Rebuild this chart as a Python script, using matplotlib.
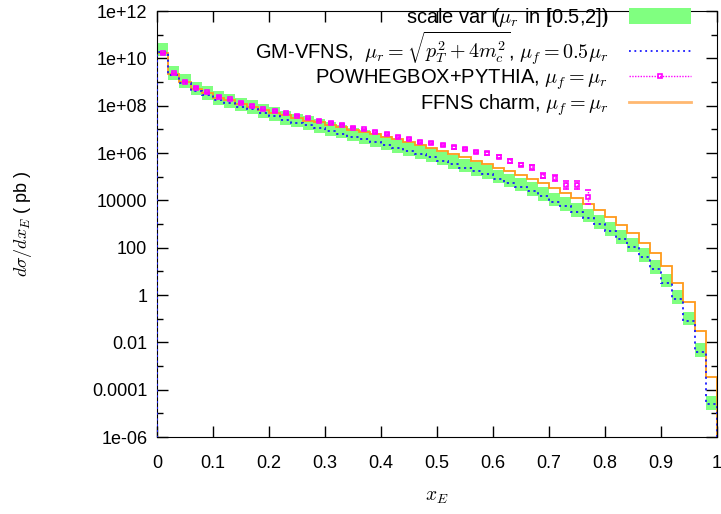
import numpy as np
import matplotlib
matplotlib.use('Agg')
from matplotlib import pyplot as plt
from matplotlib.patches import Patch
from matplotlib.lines import Line2D
from matplotlib.ticker import FixedLocator, NullFormatter

# Bin edges in x_E (50 bins of 0.02).
edges = np.linspace(0.0, 1.0, 51)

# GM-VFNS central values, log10(dsigma/dx_E [pb]).
gm_vfns_log = [10.25, 9.30, 8.95, 8.63, 8.45, 8.24, 8.10, 7.96, 7.85, 7.68,
               7.56, 7.40, 7.28, 7.17, 7.04, 6.91, 6.82, 6.69, 6.58, 6.45,
               6.34, 6.20, 6.08, 5.96, 5.82, 5.68, 5.54, 5.38, 5.23, 5.10,
               4.92, 4.75, 4.58, 4.40, 4.18, 3.94, 3.76, 3.51, 3.27, 2.99,
               2.71, 2.35, 2.02, 1.59, 1.10, 0.52, -0.18, -1.08, -2.41, -4.62]

# Scale variation band, upper and lower edges (log10).
band_hi_log = [10.65, 9.68, 9.33, 9.01, 8.83, 8.62, 8.48, 8.34, 8.23, 8.06,
               7.94, 7.78, 7.66, 7.55, 7.42, 7.29, 7.20, 7.07, 6.96, 6.83,
               6.72, 6.58, 6.46, 6.34, 6.20, 6.06, 5.92, 5.76, 5.61, 5.48,
               5.30, 5.13, 4.96, 4.78, 4.56, 4.32, 4.14, 3.89, 3.65, 3.37,
               3.09, 2.73, 2.40, 1.97, 1.48, 0.90, 0.20, -0.70, -2.03, -4.27]
band_lo_log = [10.10, 9.10, 8.75, 8.43, 8.25, 8.04, 7.90, 7.76, 7.65, 7.48,
               7.36, 7.20, 7.08, 6.97, 6.84, 6.71, 6.62, 6.49, 6.38, 6.25,
               6.14, 6.00, 5.88, 5.76, 5.62, 5.48, 5.34, 5.18, 5.03, 4.90,
               4.72, 4.55, 4.38, 4.20, 3.98, 3.74, 3.56, 3.31, 3.07, 2.79,
               2.51, 2.15, 1.82, 1.39, 0.90, 0.32, -0.38, -1.28, -2.61, -4.86]

# FFNS charm (log10).
ffns_log = [10.22, 9.35, 8.99, 8.72, 8.52, 8.34, 8.22, 8.08, 7.94, 7.81,
            7.71, 7.61, 7.49, 7.37, 7.30, 7.18, 7.09, 6.97, 6.87, 6.79,
            6.69, 6.58, 6.45, 6.33, 6.21, 6.09, 5.95, 5.83, 5.68, 5.55,
            5.38, 5.24, 5.07, 4.90, 4.72, 4.52, 4.31, 4.09, 3.83, 3.58,
            3.28, 2.97, 2.61, 2.21, 1.76, 1.23, 0.52, -0.31, -1.52, -3.45]

# POWHEGBOX+PYTHIA points at bin centres (log10) and their errors (decades).
powheg_log = [10.21, 9.37, 9.01, 8.76, 8.56, 8.38, 8.27, 8.13, 7.99, 7.85,
              7.78, 7.68, 7.58, 7.47, 7.37, 7.27, 7.20, 7.07, 7.00, 6.89,
              6.79, 6.68, 6.60, 6.47, 6.42, 6.34, 6.24, 6.18, 6.04, 5.98,
              5.84, 5.66, 5.51, 5.39, 5.04, 4.94, 4.63, 4.66, 4.13]
powheg_err = [0.03, 0.03, 0.03, 0.03, 0.03, 0.03, 0.03, 0.03, 0.03, 0.03,
              0.03, 0.03, 0.03, 0.03, 0.03, 0.03, 0.03, 0.03, 0.03, 0.04,
              0.04, 0.04, 0.04, 0.04, 0.04, 0.05, 0.05, 0.05, 0.05, 0.06,
              0.06, 0.07, 0.08, 0.09, 0.10, 0.12, 0.17, 0.17, 0.30]

y_ticks = [1e12, 1e10, 1e8, 1e6, 1e4, 1e2, 1, 1e-2, 1e-4, 1e-6]
y_ticklabels = ['1e+12', '1e+10', '1e+08', '1e+06', '10000', '100', '1',
                '0.01', '0.0001', '1e-06']
x_ticks = [0, 0.1, 0.2, 0.3, 0.4, 0.5, 0.6, 0.7, 0.8, 0.9, 1]
x_ticklabels = ['0', '0.1', '0.2', '0.3', '0.4', '0.5', '0.6', '0.7', '0.8',
                '0.9', '1']

plt.rcParams['font.family'] = ['Liberation Sans', 'DejaVu Sans']
plt.rcParams['mathtext.fontset'] = 'cm'

green = '#80ff80'
blue = '#1a1aff'
orange = '#ff9a1a'
magenta = '#ff00ff'

fig = plt.figure(figsize=(7.21, 5.14), dpi=100)
ax = fig.add_axes([157 / 721, 77 / 514, 560 / 721, 426 / 514])

centers = 0.5 * (edges[:-1] + edges[1:])
hi = 10.0 ** np.array(band_hi_log)
lo = 10.0 ** np.array(band_lo_log)
ax.bar(centers, hi - lo, bottom=lo, width=0.02, color=green, linewidth=0,
       zorder=1)

ax.stairs(10.0 ** np.array(gm_vfns_log), edges, baseline=1e-7, color=blue,
          linestyle=(0, (1.2, 2.0)), linewidth=1.3, zorder=3)
ax.stairs(10.0 ** np.array(ffns_log), edges, baseline=1e-7, color=orange,
          linewidth=1.3, zorder=2)

pc = centers[:len(powheg_log)]
pv = 10.0 ** np.array(powheg_log)
pe = np.array(powheg_err)
yerr = [pv - pv / 10.0 ** pe, pv * 10.0 ** pe - pv]
eb = ax.errorbar(pc, pv, yerr=yerr, fmt='s', color=magenta, markersize=3,
                 mfc='none', mew=1.2, elinewidth=1.0, capsize=2, zorder=4)
for b in eb[2]:
    b.set_linestyle((0, (1, 1)))

ax.set_yscale('log')
ax.set_xlim(0, 1)
ax.set_ylim(1e-6, 1e12)
ax.yaxis.set_major_locator(FixedLocator(y_ticks))
ax.set_yticklabels(y_ticklabels)
ax.yaxis.set_minor_locator(FixedLocator([1e11, 1e9, 1e7, 1e5, 1e3, 10, 0.1,
                                         1e-3, 1e-5]))
ax.yaxis.set_minor_formatter(NullFormatter())
ax.set_xticks(x_ticks)
ax.set_xticklabels(x_ticklabels)
ax.tick_params(which='both', direction='in', top=True, right=True,
               labelsize=13)
ax.tick_params(axis='y', pad=7)
ax.tick_params(axis='x', pad=13)
ax.tick_params(which='major', length=8, width=1)
ax.tick_params(which='minor', length=4, width=1)

ax.set_xlabel(r'$x_E$', fontsize=14, labelpad=12)
ax.set_ylabel(r'$d\sigma/dx_E$ ( pb )', fontsize=13, labelpad=42)

handles = [
    Patch(facecolor=green, edgecolor='none'),
    Line2D([], [], color=blue, linestyle=(0, (1, 2)), linewidth=1.3),
    Line2D([], [], color=magenta, linestyle=(0, (1, 1)), linewidth=1.0,
           marker='s', markersize=3, mfc='none', mew=1.2),
    Line2D([], [], color='#ffb870', linewidth=2),
]
labels = [
    r'scale var ($\mu_r$ in [0.5,2])',
    r'GM-VFNS,  $\mu_r = \sqrt{p_T^2 + 4m_c^2}$, $\mu_f = 0.5\mu_r$',
    r'POWHEGBOX+PYTHIA, $\mu_f = \mu_r$',
    r'FFNS charm, $\mu_f = \mu_r$',
]
leg = ax.legend(handles, labels, loc='upper right',
                bbox_to_anchor=(691 / 721, 508 / 514),
                bbox_transform=fig.transFigure, frameon=False, fontsize=14.5,
                markerfirst=False, handlelength=3.1, handleheight=0.9,
                labelspacing=0.02, handletextpad=1.0, borderpad=0.0,
                borderaxespad=0.0)
for t in leg.get_texts():
    t.set_ha('right')
leg._legend_box.align = 'right'

plt.savefig('out.png', dpi=100)
